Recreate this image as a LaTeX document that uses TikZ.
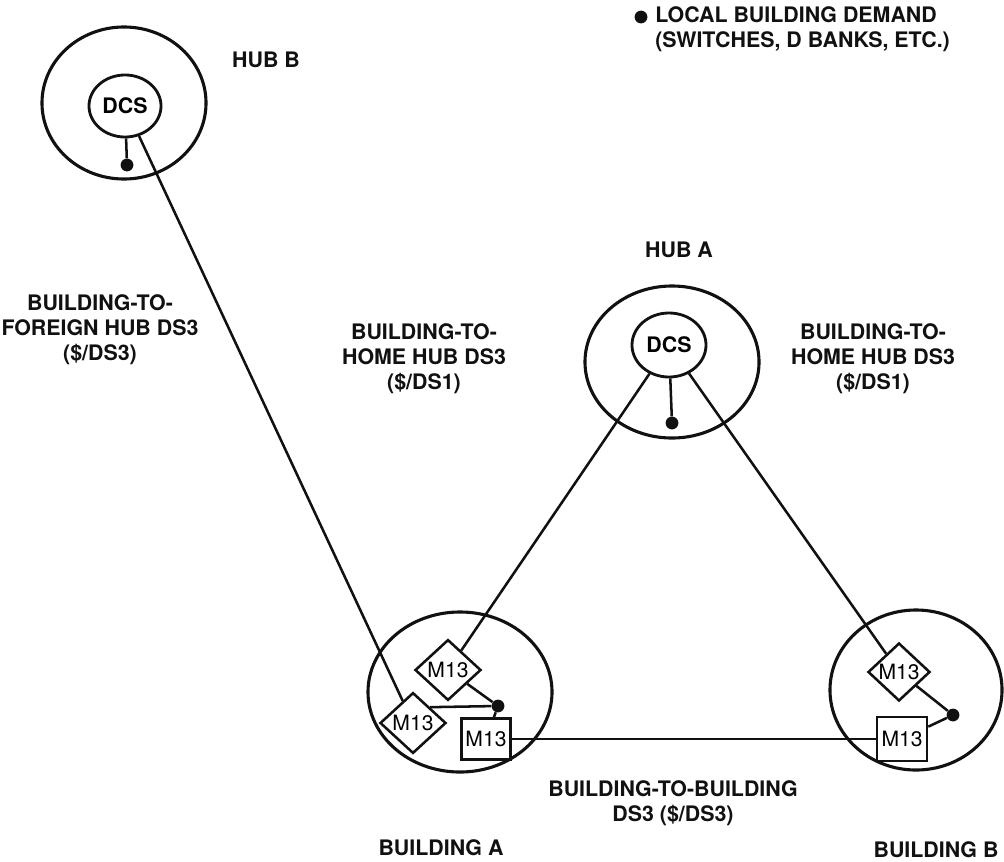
\documentclass[tikz,border=0pt]{standalone}
\usepackage{fontspec}
\setsansfont{TeX Gyre Heros}
\usetikzlibrary{shapes.geometric, positioning}
\definecolor{ink}{HTML}{111111}
\newcommand{\lblfont}{\sffamily\bfseries\fontsize{15.2}{17.8}\selectfont}
\newcommand{\muxfont}{\sffamily\fontsize{15}{16}\selectfont}
\tikzset{
  site/.style={draw=ink, ellipse, line width=2.2pt, inner sep=0pt},
  dcs/.style={draw=ink, ellipse, line width=2pt, inner sep=0pt,
              minimum width=1.8cm, minimum height=1.55cm, font=\lblfont},
  demand/.style={circle, fill=ink, inner sep=0pt, minimum size=0.32cm},
  mux/.style={draw=ink, diamond, line width=1.8pt, inner sep=0pt,
              minimum width=1.65cm, minimum height=1.52cm, font=\muxfont},
  muxbox/.style={draw=ink, rectangle, line width=1.8pt, inner sep=0pt,
                 minimum width=1.22cm, minimum height=1.02cm, font=\muxfont},
  lbl/.style={font=\lblfont, text=ink, align=center, inner sep=0pt},
  link/.style={draw=ink, line width=1.8pt},
}
\begin{document}
\begin{tikzpicture}[x=0.025cm, y=-0.025cm]
  \useasboundingbox (0,0) rectangle (1004,861);

  % hubs
  \node[site, minimum width=4.1cm, minimum height=3.8cm] (hubB) at (124,103) {};
  \node[dcs] (dcsB) at (125,106) {DCS};
  \node[demand] (dotB) at (127,165) {};
  \node[lbl] (hubBlbl) at (266,60) {HUB B};

  \node[site, minimum width=4.35cm, minimum height=3.8cm] (hubA) at (672,362) {};
  \node[dcs, minimum width=1.85cm, minimum height=1.6cm] (dcsA) at (669,345) {DCS};
  \node[demand] (dotA) at (672,423) {};
  \node[lbl] (hubAlbl) at (679,250) {HUB A};

  % buildings
  \node[site, minimum width=4.6cm, minimum height=4.0cm] (bldA) at (460,692) {};
  \node[mux] (muxA1) at (448,670) {M13};
  \node[mux] (muxA2) at (413,723) {M13};
  \node[muxbox] (boxA) at (486,739) {M13};
  \node[demand] (dotbA) at (498,706) {};

  \node[site, minimum width=4.3cm, minimum height=4.0cm] (bldB) at (916,690) {};
  \node[mux, minimum width=1.55cm, minimum height=1.45cm] (muxB) at (899,672) {M13};
  \node[muxbox, minimum width=1.25cm, minimum height=1.1cm] (boxB) at (902,739) {M13};
  \node[demand] (dotbB) at (953,715) {};

  % links
  \draw[link] (dcsB) -- (dotB);
  \draw[link] (dcsA) -- (dotA);
  \draw[link] (dcsB) -- (muxA2);
  \draw[link] (dcsA) -- (muxA1);
  \draw[link] (dcsA) -- (muxB);
  \draw[link] (muxA1) -- (dotbA);
  \draw[link] (dotbA) -- (muxA2.north east);
  \draw[link] (boxA) -- (dotbA);
  \draw[link] (boxA.east) -- (boxB.west);
  \draw[link] (muxB) -- (dotbB);
  \draw[link] (boxB) -- (dotbB);

  % labels
  \node[demand] (key) at (641,17) {};
  \node[lbl, align=left, anchor=north west] (keylbl) at (655,6)
    {LOCAL BUILDING DEMAND\\(SWITCHES, D BANKS, ETC.)};
  \node[lbl] (foreign) at (100,330) {BUILDING-TO-\\FOREIGN HUB DS3\\(\$/DS3)};
  \node[lbl] (homeL) at (424,359) {BUILDING-TO-\\HOME HUB DS3\\(\$/DS1)};
  \node[lbl] (homeR) at (873,359) {BUILDING-TO-\\HOME HUB DS3\\(\$/DS1)};
  \node[lbl] (b2b) at (673,803) {BUILDING-TO-BUILDING\\DS3 (\$/DS3)};
  \node[lbl] (bldAlbl) at (441,848) {BUILDING A};
  \node[lbl] (bldBlbl) at (936,850) {BUILDING B};
\end{tikzpicture}
\end{document}
